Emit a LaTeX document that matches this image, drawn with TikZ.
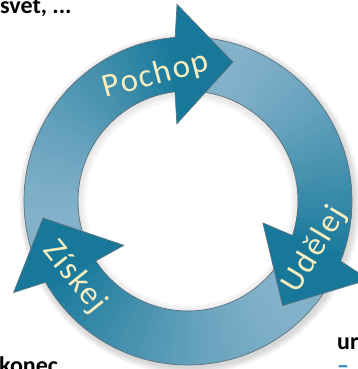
\documentclass[tikz,border=0pt]{standalone}
\usepackage{fontspec}
\setmainfont{Carlito}
\newfontfamily\arrowfont[LetterSpace=5]{Carlito}
\definecolor{ringlight}{HTML}{82B1C9}
\definecolor{arrowdark}{HTML}{17789A}
\definecolor{edgec}{HTML}{5E727E}
\definecolor{labelc}{HTML}{F8EDBE}
\definecolor{bluetext}{HTML}{2E86C1}
\newcommand\ArrowBody[2]{%
  \foreach \k in {0,...,35}{%
    \pgfmathsetmacro\aa{#1+(#2-#1)*\k/36}%
    \pgfmathsetmacro\ab{#1+(#2-#1)*(\k+1.4)/36}%
    \pgfmathtruncatemacro\pc{100*((\k+0.5)/36)^1.3}%
    \fill[arrowdark!\pc!ringlight] (\aa:110pt) arc[start angle=\aa,end angle=\ab,radius=110pt]
      -- (\ab:164pt) arc[start angle=\ab,end angle=\aa,radius=164pt] -- cycle;
  }}
\newcommand\ArrowHead[6]{%
  \fill[arrowdark] (#5:164pt) -- (#3:197pt) -- (#1:#2pt) -- (#4:78pt) -- (#6:110pt) -- cycle;
  \draw[edge] (#5:164pt) -- (#3:197pt) -- (#1:#2pt) -- (#4:78pt) -- (#6:110pt);}
\tikzset{
  edge/.style={draw=edgec, line width=0.7pt, line join=miter},
  lbl/.style={text=labelc, font=\arrowfont\fontsize{33}{33}\selectfont, inner sep=0pt},
  side/.style={text=black, font=\bfseries\fontsize{24}{24}\selectfont, inner sep=0pt}
}
\begin{document}
\begin{tikzpicture}[x=1pt,y=1pt]
\useasboundingbox (0,0) rectangle (358,369);
\clip (0,0) rectangle (358,369);
\begin{scope}[shift={(188,168)}]
  % soft shadow outside the ring
  \foreach \s in {1,...,7}{
    \fill[black,opacity=0.022,even odd rule] (1.5pt,-2.5pt) circle (164pt+\s pt) (0,0) circle (150pt);
  }
  % base ring
  \fill[ringlight,even odd rule] (0,0) circle (164pt) (0,0) circle (110pt);
  % faint shadow inside the hole
  \foreach \s in {1,...,5}{
    \fill[black,opacity=0.02,even odd rule] (0,0) circle (110pt) (0.5pt,-1.5pt) circle (110pt-1.6*\s pt);
  }
  % arrow bodies (clockwise)
  \ArrowBody{186.7}{94.5}
  \ArrowBody{72.1}{-21.5}
  \ArrowBody{312.1}{209.7}
  % ring outline
  \draw[edge] (0,0) circle (164pt);
  \draw[edge] (0,0) circle (110pt);
  % arrow heads: tip angle, tip r, outer barb angle, inner barb angle, outer ring angle, inner ring angle
  \ArrowHead{72.1}{146}{93.2}{98.2}{94.5}{96.8}
  \ArrowHead{-47.9}{141}{-23.5}{-16.3}{-21.5}{-18.3}
  \ArrowHead{186.7}{146}{207.7}{214.6}{209.7}{213.0}
\end{scope}
\node[lbl, rotate=15, anchor=base] (pochop) at (158,285) {Pochop};
\node[lbl, rotate=59, anchor=base] (udelej) at (322,115) {Udělej};
\node[lbl, rotate=-51, anchor=base] (ziskej) at (68,86) {Získej};
\node[side, anchor=base west] (svet) at (0,355) {svet, ...};
\node[side, anchor=base west] (konec) at (-1,-5) {konec};
\node[side, anchor=base west] (ur) at (337,19) {ur};
\node[side, text=bluetext, anchor=base west] (dash) at (337,-5) {–};
\end{tikzpicture}
\end{document}
